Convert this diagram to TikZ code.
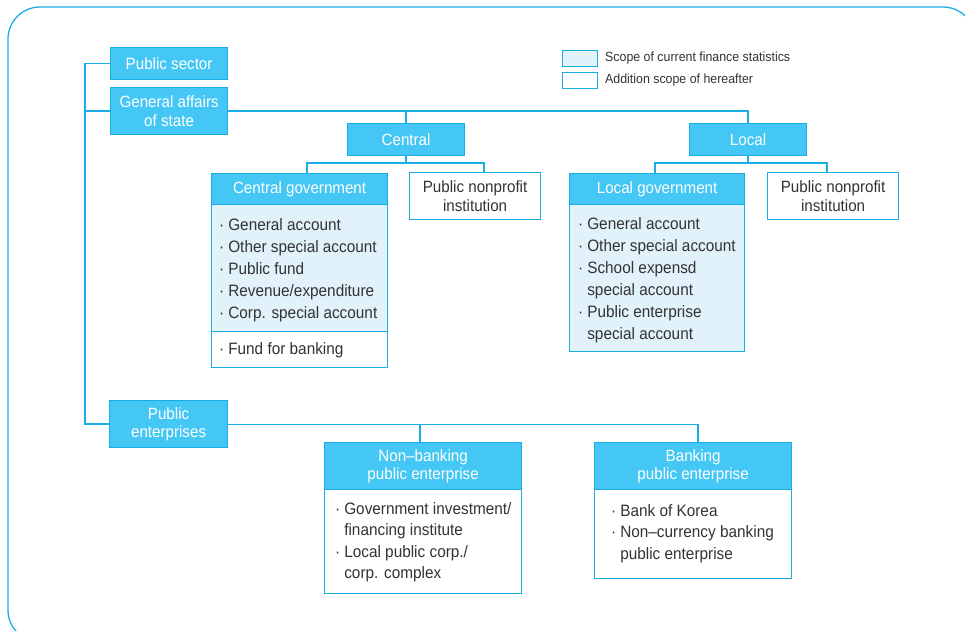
\documentclass[tikz,border=0pt]{standalone}
\usepackage{fontspec}
\setmainfont{Liberation Sans}[FakeStretch=0.93]
\definecolor{lineblue}{HTML}{1AAEE6}
\definecolor{hdrblue}{HTML}{44C7F4}
\definecolor{paleblue}{HTML}{E1F2FA}
\definecolor{txtgray}{HTML}{333333}
\tikzset{
  conn/.style={draw=lineblue, line width=1.3pt},
  box/.style={draw=lineblue, line width=1.2pt, inner sep=0pt, anchor=north west},
  hdr/.style={box, fill=hdrblue, text=white, align=center,
    font=\fontsize{16.3}{18.5}\selectfont},
  pale/.style={box, fill=paleblue},
  plain/.style={box, fill=white, text=txtgray, align=center,
    font=\fontsize{16.3}{19}\selectfont},
  items/.style={inner sep=0pt, anchor=base west, text=txtgray,
    font=\fontsize{16.5}{22}\selectfont},
  legtext/.style={inner sep=0pt, anchor=west, text=txtgray,
    font=\fontsize{13.3}{15}\selectfont},
}
\newcommand{\bul}{\textperiodcentered}
\begin{document}
\begin{tikzpicture}[x=1pt, y=-1pt]
\useasboundingbox (0,0) rectangle (965,630);
% outer frame
\draw[lineblue, line width=1.3pt, rounded corners=32pt] (8,7) rectangle (975,642);

% legend
\node[pale, minimum width=35pt, minimum height=16pt] (lg1) at (562,50) {};
\node[box, fill=white, minimum width=35pt, minimum height=16pt] (lg2) at (562,72) {};
\node[legtext] (lt1) at (605,58) {Scope of current finance statistics};
\node[legtext] (lt2) at (605,80) {Addition scope of hereafter};

% top level
\node[hdr, minimum width=117pt, minimum height=32pt] (ps) at (110,47) {Public sector};
\node[hdr, minimum width=117pt, minimum height=47pt] (ga) at (110,87) {General affairs\\of state};
\node[hdr, minimum width=118pt, minimum height=47pt] (pe) at (109,400) {Public\\enterprises};

% central / local
\node[hdr, minimum width=117pt, minimum height=32pt] (cen) at (347,123) {Central};
\node[hdr, minimum width=117pt, minimum height=32pt] (loc) at (689,123) {Local};

% central government
\node[pale, minimum width=176pt, minimum height=158pt] (cgb) at (211,173) {};
\node[box, fill=white, minimum width=176pt, minimum height=36pt] (cgw) at (211,331) {};
\node[hdr, minimum width=176pt, minimum height=31pt] (cg) at (211,173) {Central government};
\node[items] (cgl) at (219,230) {\begin{tabular}[t]{@{}l@{\hspace{4pt}}l@{}}
\bul & General account\\
\bul & Other special account\\
\bul & Public fund\\
\bul & Revenue/expenditure\\
\bul & Corp. special account
\end{tabular}};
\node[items] (cgf) at (219,354) {\begin{tabular}[t]{@{}l@{\hspace{4pt}}l@{}}
\bul & Fund for banking
\end{tabular}};
\node[plain, minimum width=131pt, minimum height=47pt] (pn1) at (409,172) {Public nonprofit\\institution};

% local government
\node[pale, minimum width=175pt, minimum height=178pt] (lgb) at (569,173) {};
\node[hdr, minimum width=175pt, minimum height=31pt] (lg) at (569,173) {Local government};
\node[items] (lgl) at (578,229) {\begin{tabular}[t]{@{}l@{\hspace{4pt}}l@{}}
\bul & General account\\
\bul & Other special account\\
\bul & School expensd\\
    & special account\\
\bul & Public enterprise\\
    & special account
\end{tabular}};
\node[plain, minimum width=131pt, minimum height=47pt] (pn2) at (767,172) {Public nonprofit\\institution};

% public enterprises
\node[box, fill=white, minimum width=197pt, minimum height=151pt] (nbb) at (324,442) {};
\node[hdr, minimum width=197pt, minimum height=47pt] (nb) at (324,442) {Non--banking\\public enterprise};
\node[items, font=\fontsize{16.5}{21.5}\selectfont] (nbl) at (335,514) {\begin{tabular}[t]{@{}l@{\hspace{4pt}}l@{}}
\bul & Government investment/\\
    & financing institute\\
\bul & Local public corp./\\
    & corp. complex
\end{tabular}};
\node[box, fill=white, minimum width=197pt, minimum height=136pt] (bkb) at (594,442) {};
\node[hdr, minimum width=197pt, minimum height=47pt] (bk) at (594,442) {Banking\\public enterprise};
\node[items, font=\fontsize{16.5}{21.5}\selectfont] (bkl) at (611,516) {\begin{tabular}[t]{@{}l@{\hspace{4pt}}l@{}}
\bul & Bank of Korea\\
\bul & Non--currency banking\\
    & public enterprise
\end{tabular}};

% connectors
\coordinate (spine) at (85,62);
\draw[conn] (ps.west) -- (ps.west -| spine) -- (pe.west -| spine) -- (pe.west);
\draw[conn] (ga.west) -- (ga.west -| spine);
\draw[conn] (ga.east) -- (ga.east -| loc.north) -- (loc.north);
\draw[conn] (ga.east -| cen.north) -- (cen.north);

\coordinate (cbl) at (307,163);
\coordinate (cbr) at (484,163);
\draw[conn] (cen.south) -- (cen.south |- cbl);
\draw[conn] (cbl |- cg.north) -- (cbl) -- (cbr) -- (cbr |- pn1.north);

\coordinate (lbl) at (655,163);
\coordinate (lbr) at (827,163);
\draw[conn] (loc.south) -- (loc.south |- lbl);
\draw[conn] (lbl |- lg.north) -- (lbl) -- (lbr) -- (lbr |- pn2.north);

\coordinate (nbd) at (420,424.5);
\coordinate (bkd) at (698,424.5);
\draw[conn] (pe.east |- nbd) -- (bkd) -- (bkd |- bk.north);
\draw[conn] (nbd) -- (nbd |- nb.north);
\end{tikzpicture}
\end{document}
